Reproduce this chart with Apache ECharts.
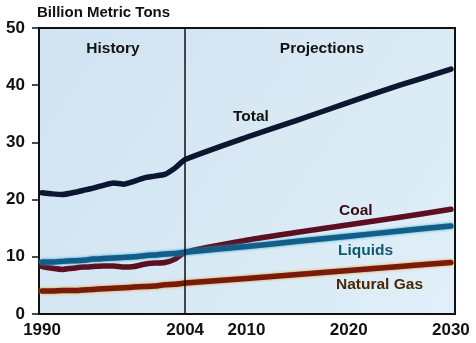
<!DOCTYPE html>
<html><head><meta charset="utf-8">
<script src="https://cdn.jsdelivr.net/npm/echarts@6/dist/echarts.min.js"></script>
<style>html,body{margin:0;padding:0;background:#fff}#c{width:476px;height:343px}</style>
</head><body><div id="c"></div>
<script>
const years = [1990,1991,1992,1993,1994,1995,1996,1997,1998,1999,2000,2001,2002,2003,2004,2010,2015,2020,2025,2030];
const total   = [21.2,21.0,20.9,21.2,21.6,22.0,22.5,22.9,22.7,23.2,23.8,24.1,24.4,25.5,27.0,30.9,33.9,37.0,40.0,42.8];
const coal    = [8.3,8.0,7.8,8.0,8.2,8.3,8.4,8.4,8.2,8.3,8.7,8.9,9.0,9.6,10.8,12.9,14.3,15.6,16.9,18.3];
const liquids = [9.1,9.1,9.2,9.3,9.4,9.6,9.7,9.8,9.9,10.0,10.2,10.3,10.5,10.6,10.8,11.8,12.7,13.6,14.5,15.4];
const gas     = [4.0,4.0,4.1,4.1,4.2,4.3,4.4,4.5,4.6,4.7,4.8,4.9,5.1,5.2,5.4,6.2,6.9,7.6,8.3,9.0];
const xTicks = [1990,2004,2010,2020,2030];
const yTicks = [0,10,20,30,40,50];
const divider = 2004;

const pair = a => years.map((y,i)=>[y,a[i]]);
const font = 'Liberation Sans, Arial, sans-serif';
const chart = echarts.init(document.getElementById('c'));
function mk(name, data, color, halo){
  return {name, type:'line', data:pair(data), symbol:'none', smooth:0.2,
    lineStyle:{color, width:5.5, shadowColor:halo||'rgba(0,0,0,0)', shadowBlur:halo?3:0, cap:'round', join:'round'}};
}
chart.setOption({
  animation:false,
  grid:{left:39,right:21,top:28,bottom:29,show:true,borderColor:'#111',borderWidth:2,
    backgroundColor:{type:'linear',x:0,y:0,x2:1,y2:1,colorStops:[{offset:0,color:'#d0e3f1'},{offset:1,color:'#e0eff8'}]}},
  xAxis:{type:'value',min:1989.7,max:2030.4,
    axisLine:{show:false},splitLine:{show:false},
    axisTick:{show:false},
    axisLabel:{customValues:xTicks,formatter:v=>String(Math.round(v)),color:'#111',fontFamily:font,fontWeight:'bold',fontSize:17,margin:8}},
  yAxis:{type:'value',min:0,max:50,interval:10,
    axisLine:{show:true,lineStyle:{color:'#111',width:2}},
    axisTick:{show:true,length:7,inside:false,lineStyle:{color:'#111',width:1.5}},
    splitLine:{show:false},
    axisLabel:{formatter:v=>String(v),color:'#111',fontFamily:font,fontWeight:'bold',fontSize:17,margin:14}},
  series:[
    Object.assign(mk('Natural Gas',gas,'#7a1a0c','#e0a020'),{
      markLine:{silent:true,symbol:'none',label:{show:false},lineStyle:{color:'#111',width:1.5,type:'solid'},data:[{xAxis:divider}]}}),
    mk('Coal',coal,'#5c0f22'),
    mk('Liquids',liquids,'#145d88','#2aa8c8'),
    mk('Total',total,'#0d1630')
  ],
  graphic:[
    {type:'text',left:37,top:5,style:{text:'Billion Metric Tons',font:'bold 15px '+font,fill:'#111'}},
    {type:'text',x:113,y:49,style:{text:'History',font:'bold 15.5px '+font,fill:'#111',align:'center',verticalAlign:'middle'}},
    {type:'text',x:322,y:49,style:{text:'Projections',font:'bold 15.5px '+font,fill:'#111',align:'center',verticalAlign:'middle'}},
    {type:'text',x:233,y:117,style:{text:'Total',font:'bold 15.5px '+font,fill:'#111',verticalAlign:'middle'}},
    {type:'text',x:339,y:211,style:{text:'Coal',font:'bold 15.5px '+font,fill:'#3a0812',verticalAlign:'middle'}},
    {type:'text',x:338,y:251,style:{text:'Liquids',font:'bold 15.5px '+font,fill:'#0e5a6e',verticalAlign:'middle'}},
    {type:'text',x:336,y:285,style:{text:'Natural Gas',font:'bold 15.5px '+font,fill:'#4a2806',verticalAlign:'middle'}}
  ]
});
</script></body></html>
